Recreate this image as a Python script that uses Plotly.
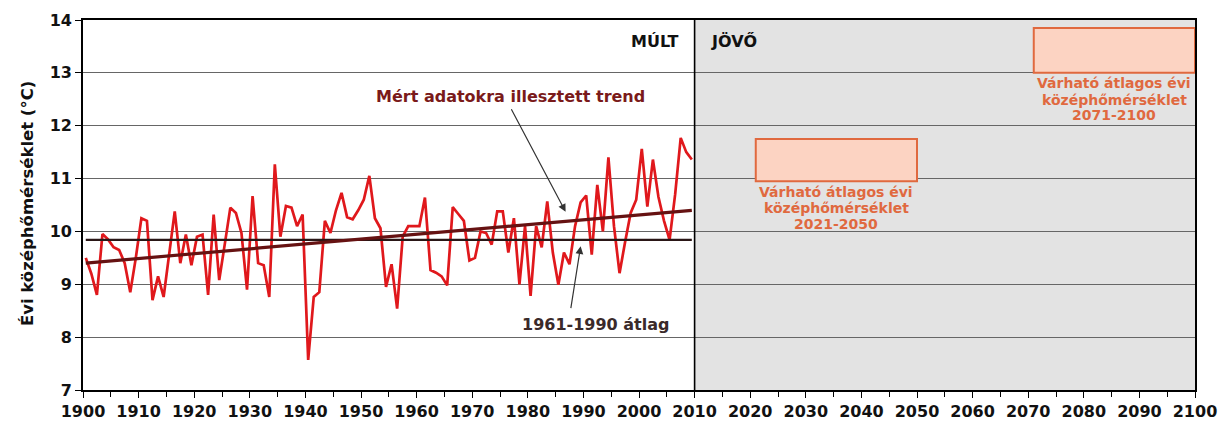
import plotly.graph_objects as go

# ---------------- data ----------------
years = list(range(1900, 2010))
temps = [
    9.50, 9.20, 8.80, 9.95, 9.85, 9.70, 9.65, 9.40, 8.85, 9.50,   # 1900-1909
    10.25, 10.20, 8.70, 9.15, 8.76, 9.57, 10.38, 9.40, 9.94, 9.36, # 1910-1919
    9.90, 9.94, 8.80, 10.32, 9.08, 9.76, 10.45, 10.35, 9.97, 8.90, # 1920-1929
    10.67, 9.40, 9.36, 8.76, 11.27, 9.90, 10.48, 10.45, 10.10, 10.32, # 1930-1939
    7.57, 8.76, 8.85, 10.20, 9.97, 10.40, 10.73, 10.27, 10.23, 10.40, # 1940-1949
    10.60, 11.05, 10.25, 10.06, 8.95, 9.38, 8.54, 9.90, 10.10, 10.10, # 1950-1959
    10.10, 10.64, 9.27, 9.22, 9.15, 8.98, 10.46, 10.33, 10.20, 9.45,  # 1960-1969
    9.50, 10.00, 9.97, 9.75, 10.38, 10.38, 9.60, 10.25, 9.00, 10.10,  # 1970-1979
    8.78, 10.10, 9.70, 10.57, 9.60, 8.99, 9.60, 9.38, 10.10, 10.55,   # 1980-1989
    10.68, 9.56, 10.88, 10.00, 11.40, 10.10, 9.21, 9.80, 10.35, 10.60, # 1990-1999
    11.56, 10.47, 11.36, 10.65, 10.20, 9.84, 10.70, 11.77, 11.50, 11.36, # 2000-2009
]

trend_years = [1900, 2009]
trend_values = [9.40, 10.40]

normal_1961_1990 = 9.84

future_start = [2021, 2071]
future_end = [2050, 2100]
future_low = [10.95, 13.00]
future_high = [11.75, 13.85]
future_label_lines = [
    ["Várható átlagos évi", "középhőmérséklet", "2021-2050"],
    ["Várható átlagos évi", "középhőmérséklet", "2071-2100"],
]

past_future_split = 2010
x_ticks = list(range(1900, 2101, 10))
y_ticks = list(range(7, 15))

# ---------------- figure ----------------
FONT = "DejaVu Sans, Liberation Sans, Arial, sans-serif"
fig = go.Figure()

# category-centred positions (Excel-style "between tick marks")
xs = [y + 0.5 for y in years]

fig.add_trace(go.Scatter(
    x=xs, y=temps, mode="lines",
    line=dict(color="#e0181c", width=2.7),
    hoverinfo="skip", showlegend=False,
))
fig.add_trace(go.Scatter(
    x=[xs[0], xs[-1]], y=[normal_1961_1990, normal_1961_1990], mode="lines",
    line=dict(color="#2a1616", width=2.2),
    hoverinfo="skip", showlegend=False,
))
fig.add_trace(go.Scatter(
    x=[t + 0.5 for t in trend_years], y=trend_values, mode="lines",
    line=dict(color="#661212", width=3.2),
    hoverinfo="skip", showlegend=False,
))

shapes = [
    # grey "future" background
    dict(type="rect", xref="x", yref="y", x0=past_future_split, x1=2100,
         y0=7, y1=14, fillcolor="#e3e3e3", line=dict(width=0), layer="below"),
    # split line
    dict(type="line", xref="x", yref="y", x0=past_future_split, x1=past_future_split,
         y0=7, y1=14, line=dict(color="black", width=1.6), layer="above"),
]
for s, e, lo, hi in zip(future_start, future_end, future_low, future_high):
    shapes.append(dict(type="rect", xref="x", yref="y", x0=s, x1=e, y0=lo, y1=hi,
                       fillcolor="#fcd3c2", line=dict(color="#e0693f", width=2),
                       layer="above"))

annotations = []
# past / future labels
annotations.append(dict(x=2007.3, y=13.6, xref="x", yref="y", text="MÚLT",
                        showarrow=False, xanchor="right", yanchor="middle",
                        font=dict(family=FONT, size=16, color="#111111", weight="bold")))
annotations.append(dict(x=2012.6, y=13.6, xref="x", yref="y", text="JÖVŐ",
                        showarrow=False, xanchor="left", yanchor="middle",
                        font=dict(family=FONT, size=16, color="#111111", weight="bold")))
# trend label + arrow
annotations.append(dict(x=1976.8, y=12.55, xref="x", yref="y",
                        text="Mért adatokra illesztett trend", showarrow=False,
                        font=dict(family=FONT, size=16, color="#7a1a1a", weight="bold")))
annotations.append(dict(x=1986.8, y=10.37, ax=1976.9, ay=12.34, xref="x", yref="y",
                        axref="x", ayref="y", text="", showarrow=True,
                        arrowhead=2, arrowsize=1.3, arrowwidth=1.2, arrowcolor="#333333"))
# normal label + arrow
annotations.append(dict(x=1992.1, y=8.23, xref="x", yref="y",
                        text="1961-1990 átlag", showarrow=False,
                        font=dict(family=FONT, size=16, color="#3a2a2a", weight="bold")))
annotations.append(dict(x=1989.5, y=9.72, ax=1987.7, ay=8.52, xref="x", yref="y",
                        axref="x", ayref="y", text="", showarrow=True,
                        arrowhead=2, arrowsize=1.3, arrowwidth=1.2, arrowcolor="#333333"))
# future box labels (one annotation per line for tight spacing)
line_offsets = [0.20, 0.515, 0.80]
for s, e, lo, lines in zip(future_start, future_end, future_low, future_label_lines):
    for off, txt in zip(line_offsets, lines):
        annotations.append(dict(x=(s + e) / 2, y=lo - off, xref="x", yref="y",
                                text=txt, showarrow=False, yanchor="middle",
                                font=dict(family=FONT, size=14, color="#e0693f",
                                          weight="bold")))
# y axis title
annotations.append(dict(x=-0.0504, y=0.505, xref="paper", yref="paper",
                        text="Évi középhőmérséklet (°C)", textangle=-90,
                        showarrow=False, xanchor="center", yanchor="middle",
                        font=dict(family=FONT, size=16.5, color="#111111", weight="bold")))

# page body has an 8px default margin: size/margins compensate so the plot
# area lands at x 83-1195, y 20-390 of the 1228x426 window
fig.update_layout(
    width=1220, height=418,
    margin=dict(l=75, r=33, t=12, b=36),
    paper_bgcolor="white", plot_bgcolor="white",
    shapes=shapes, annotations=annotations,
    showlegend=False,
    xaxis=dict(
        range=[1900, 2100], tickvals=x_ticks, ticktext=[str(t) for t in x_ticks],
        ticks="outside", ticklen=6, tickwidth=1.4, tickcolor="black",
        minor=dict(dtick=5, ticks="outside", ticklen=5, tickwidth=1.2, tickcolor="black"),
        showline=True, linecolor="black", linewidth=1.6, mirror=True,
        showgrid=False, zeroline=False, automargin=False,
        tickfont=dict(family=FONT, size=16, color="#111111", weight="bold"),
    ),
    yaxis=dict(
        range=[7, 14], tickvals=y_ticks,
        ticks="outside", ticklen=6, tickwidth=1.4, tickcolor="black",
        showline=True, linecolor="black", linewidth=1.6, mirror=True,
        showgrid=True, gridcolor="#666666", gridwidth=1.3, zeroline=False,
        automargin=False,
        tickfont=dict(family=FONT, size=16, color="#111111", weight="bold"),
    ),
)

fig.write_html("out.html")
